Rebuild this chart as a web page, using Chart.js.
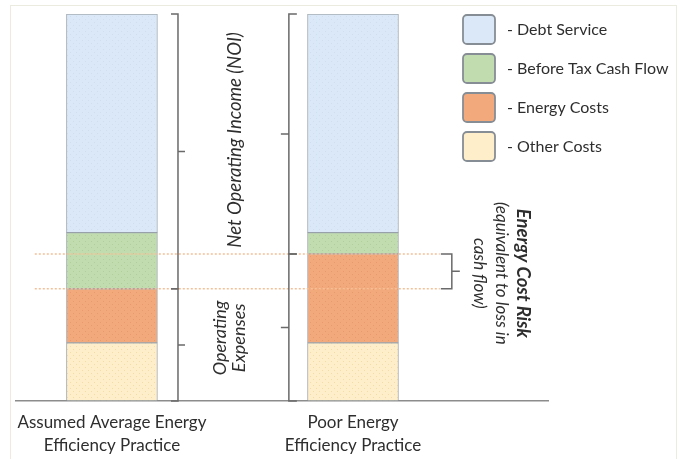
<!DOCTYPE html>
<html>
<head>
<meta charset="utf-8">
<script src="https://cdn.jsdelivr.net/npm/chart.js@4/dist/chart.umd.min.js"></script>
<style>
  html, body { margin: 0; padding: 0; background: #ffffff; }
  #wrap { position: relative; width: 683px; height: 459px; }
  #frame { position: absolute; left: 10px; top: 5px; width: 667px; height: 460px; border: 1px solid #ecebdf; box-sizing: border-box; }
  canvas { position: absolute; left: 0; top: 0; }
</style>
</head>
<body>
<div id="wrap">
  <div id="frame"></div>
  <canvas id="c" width="683" height="459"></canvas>
</div>
<script>
// ---- data ----
const categories = [
  ['Assumed Average Energy', 'Efficiency Practice'],
  ['Poor Energy', 'Efficiency Practice']
];
const otherCosts        = [15, 15];
const energyCosts       = [14, 23];
const beforeTaxCashFlow = [14.5, 5.5];
const debtService       = [56.5, 56.5];
const seriesNames = ['- Debt Service', '- Before Tax Cash Flow', '- Energy Costs', '- Other Costs'];

const FONT = 'Lato, "Open Sans", sans-serif';
const TEXT = '#2e2e2e';

function pts(arr) { return arr.map((v, i) => ({ x: i, y: v })); }

const colors = {
  other:  '#feeec9',
  energy: '#f2a97b',
  btcf:   '#c1ddb0',
  debt:   '#dae8f7'
};
const edge = 'rgba(135,145,155,0.75)';

// subtle dotted texture like the reference fills
function dotted(base, dot) {
  const c = document.createElement('canvas');
  c.width = 6; c.height = 6;
  const g = c.getContext('2d');
  g.fillStyle = base; g.fillRect(0, 0, 6, 6);
  g.fillStyle = dot;
  g.fillRect(1, 1, 1, 1); g.fillRect(4, 4, 1, 1);
  return document.getElementById('c').getContext('2d').createPattern(c, 'repeat');
}

const datasets = [
  { label: seriesNames[3], data: pts(otherCosts),        backgroundColor: dotted(colors.other,  '#f3dca8') },
  { label: seriesNames[2], data: pts(energyCosts),       backgroundColor: dotted(colors.energy, '#e99a6c') },
  { label: seriesNames[1], data: pts(beforeTaxCashFlow), backgroundColor: dotted(colors.btcf,   '#b0cf9c') },
  { label: seriesNames[0], data: pts(debtService),       backgroundColor: dotted(colors.debt,   '#cfdff0') }
].map(d => Object.assign(d, { borderColor: edge, borderWidth: 1, borderSkipped: false, barThickness: 91 }));

function cum(i, n) { // cumulative of first n stacked series for bar i
  const s = [otherCosts, energyCosts, beforeTaxCashFlow, debtService];
  let t = 0; for (let k = 0; k < n; k++) t += s[k][i]; return t;
}

const annot = {
  id: 'annot',
  afterDatasetsDraw(chart) {
    const ctx = chart.ctx, xs = chart.scales.x, ys = chart.scales.y;
    const X = v => xs.getPixelForValue(v), Y = v => ys.getPixelForValue(v);
    const top0 = Y(cum(0, 4)), top1 = Y(cum(1, 4)), base = Y(0);
    const r0 = Y(cum(0, 2)), r1 = Y(cum(1, 2));
    ctx.save();
    // dotted reference lines
    ctx.strokeStyle = '#f6bf95';
    ctx.lineWidth = 1.5;
    ctx.setLineDash([2, 2]);
    [r1, r0].forEach(y => { ctx.beginPath(); ctx.moveTo(X(-0.32), y); ctx.lineTo(X(1.36), y); ctx.stroke(); });
    ctx.setLineDash([]);

    // braces
    ctx.strokeStyle = '#6a6a6a';
    ctx.lineWidth = 1.5;
    function brace(x, y1, y2, dir, hook, tick) {
      const ym = (y1 + y2) / 2;
      ctx.beginPath();
      ctx.moveTo(x - dir * hook, y1); ctx.lineTo(x, y1); ctx.lineTo(x, y2); ctx.lineTo(x - dir * hook, y2);
      ctx.moveTo(x, ym); ctx.lineTo(x + dir * tick, ym);
      ctx.stroke();
    }
    const bx0 = X(0.274), bx1 = X(1 - 0.266), bx2 = X(1.41);
    brace(bx0, top0, r0, 1, 7, 7);
    brace(bx0, r0, base, 1, 7, 7);
    brace(bx1, top1, r1, -1, 8, 8);
    brace(bx1, r1, base, -1, 8, 8);
    brace(bx2, r1, r0, 1, 11, 8);

    // rotated texts
    ctx.fillStyle = TEXT;
    ctx.textAlign = 'center';
    ctx.textBaseline = 'middle';
    function vtext(lines, x, y, rot, font, gap) {
      ctx.save();
      ctx.translate(x, y);
      ctx.rotate(rot);
      lines.forEach((l, i) => {
        ctx.font = l.font || font;
        ctx.fillText(l.t, 0, (i - (lines.length - 1) / 2) * gap);
      });
      ctx.restore();
    }
    vtext([{ t: 'Net Operating Income (NOI)' }], X(0.51), (top0 + r1) / 2 + 6, -Math.PI / 2, 'italic 18.5px ' + FONT, 18);
    vtext([{ t: 'Operating' }, { t: 'Expenses' }], X(0.49), (r0 + base) / 2 - 7, -Math.PI / 2, 'italic 18px ' + FONT, 19);
    vtext([
      { t: 'Energy Cost Risk', font: 'bold italic 18.5px ' + FONT },
      { t: '(equivalent to loss in' },
      { t: 'cash flow)' }
    ], X(1.615), (r0 + r1) / 2 + 2, Math.PI / 2, 'italic 17px ' + FONT, 22);
    ctx.restore();

    // legend
    ctx.save();
    const legend = [
      { c: colors.debt,   t: seriesNames[0] },
      { c: colors.btcf,   t: seriesNames[1] },
      { c: colors.energy, t: seriesNames[2] },
      { c: colors.other,  t: seriesNames[3] }
    ];
    const lx = chart.chartArea.right - 85, ly = chart.chartArea.top + 1;
    legend.forEach((it, i) => {
      const y = ly + i * 39;
      ctx.beginPath();
      ctx.roundRect(lx, y, 32, 29, 4);
      ctx.fillStyle = it.c; ctx.fill();
      ctx.strokeStyle = '#868d94'; ctx.lineWidth = 1.8; ctx.stroke();
      ctx.fillStyle = TEXT;
      ctx.font = '16px ' + FONT;
      ctx.textAlign = 'left'; ctx.textBaseline = 'middle';
      ctx.fillText(it.t, lx + 44, y + 15);
    });
    ctx.restore();
  }
};

new Chart(document.getElementById('c'), {
  type: 'bar',
  data: { datasets },
  options: {
    responsive: false,
    animation: false,
    layout: { padding: { left: 16, right: 135, top: 14, bottom: 0 } },
    plugins: { legend: { display: false }, tooltip: { enabled: false } },
    scales: {
      x: {
        type: 'linear', stacked: true, offset: false,
        min: -0.398, max: 1.809,
        grid: { display: false, offset: false },
        border: { display: true, color: '#8c8c8c', width: 1.5 },
        afterBuildTicks: s => { s.ticks = categories.map((_, i) => ({ value: i })); },
        afterFit: s => { s.height = 58; },
        ticks: {
          autoSkip: false, maxRotation: 0, padding: 2,
          color: TEXT, font: { family: FONT, size: 17, lineHeight: 1.35 },
          callback: v => categories[v]
        }
      },
      y: {
        stacked: true, min: 0, max: 100, display: false
      }
    }
  },
  plugins: [annot]
});
</script>
</body>
</html>
